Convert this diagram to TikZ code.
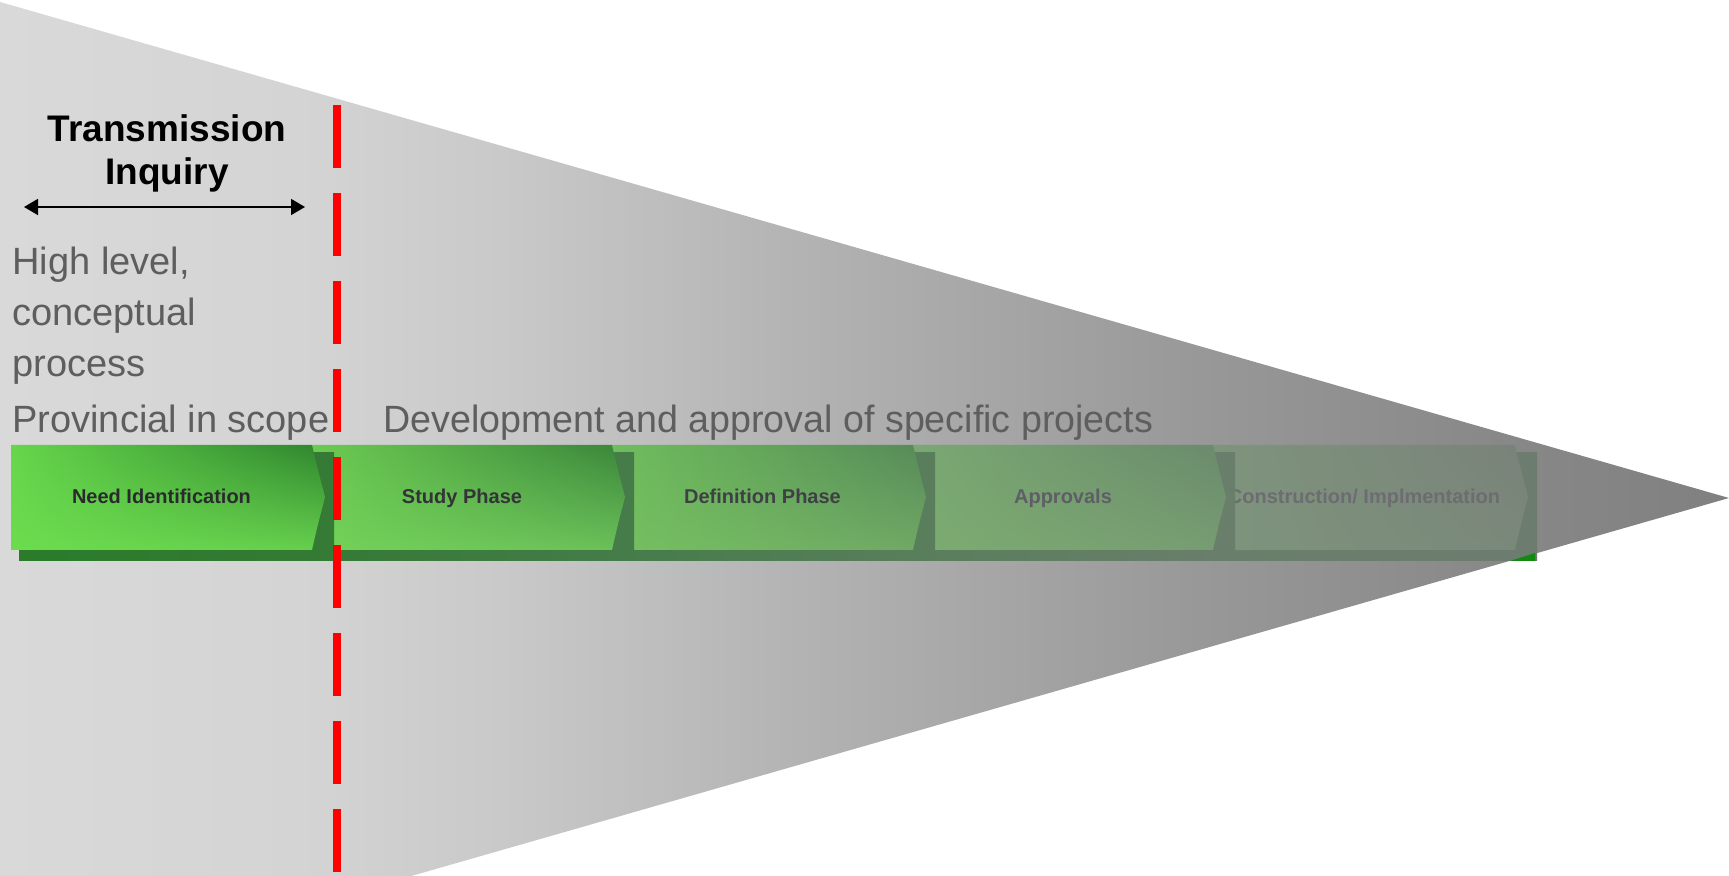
\documentclass[tikz,border=0pt]{standalone}
\usepackage{fontspec}
\setmainfont{Liberation Sans}
\usetikzlibrary{arrows.meta,shadings}
\definecolor{g0}{HTML}{D9D9D9}
\definecolor{g1}{HTML}{D4D4D4}
\definecolor{g2}{HTML}{C9C9C9}
\definecolor{g3}{HTML}{B3B3B3}
\definecolor{g4}{HTML}{989898}
\definecolor{g5}{HTML}{888888}
\definecolor{g6}{HTML}{808080}
\definecolor{gtext}{HTML}{5E5E5E}
\definecolor{dashred}{HTML}{FF0000}
\pgfdeclarehorizontalshading{bggrad}{100bp}{color(0bp)=(g0); color(25bp)=(g0); color(33.7bp)=(g1); color(39.5bp)=(g2); color(48.1bp)=(g3); color(59.7bp)=(g4); color(68.4bp)=(g5); color(75bp)=(g6); color(100bp)=(g6)}
\tikzset{
  graytext/.style={anchor=base west, inner sep=0pt, text=gtext, font=\fontsize{19pt}{22pt}\selectfont},
  titletext/.style={anchor=base, inner sep=0pt, text=black, font=\fontsize{18.5pt}{22pt}\selectfont\bfseries},
  boxtext/.style={anchor=base, inner sep=0pt, font=\fontsize{10pt}{12pt}\selectfont\bfseries},
  reddash/.style={draw=dashred, line width=4pt, dash pattern=on 31.5pt off 12.5pt},
  dblarrow/.style={draw=black, line width=0.85pt, {Triangle[length=7pt,width=8pt]}-{Triangle[length=7pt,width=8pt]}}
}
% #1 L, #2 R, #3 index, #4 next index, #5 text, #6 name
\newcommand\mychev[6]{%
  \shade[left color=s#3, right color=s#4] (#1+8,453) rectangle (#2+22,561);
  \shade[shading=bilinear interpolation, upper left=c#3a, upper right=c#3b, lower left=c#3c, lower right=c#3d]
    (#1,445) -- (#2,445) .. controls (#2+5,467) and (#2+10,485) .. (#2+13,497)
    .. controls (#2+10,509) and (#2+5,527) .. (#2,550) -- (#1,550) -- cycle;
  \node[boxtext, text=t#3] (#6) at ({(#1+#2)/2},504) {#5};
}
\definecolor{c5a}{HTML}{7E947C}\definecolor{c5b}{HTML}{7A827A}\definecolor{c5c}{HTML}{7E947C}\definecolor{c5d}{HTML}{7A887A}
\definecolor{c4a}{HTML}{7AA872}\definecolor{c4b}{HTML}{6A8A6C}\definecolor{c4c}{HTML}{7CAC70}\definecolor{c4d}{HTML}{779C72}
\definecolor{c3a}{HTML}{6FBD5C}\definecolor{c3b}{HTML}{568A58}\definecolor{c3c}{HTML}{74C060}\definecolor{c3d}{HTML}{70A865}
\definecolor{c2a}{HTML}{6CCB52}\definecolor{c2b}{HTML}{3A853A}\definecolor{c2c}{HTML}{72D258}\definecolor{c2d}{HTML}{6CC05A}
\definecolor{c1a}{HTML}{66D64B}\definecolor{c1b}{HTML}{2E852E}\definecolor{c1c}{HTML}{6CDC4E}\definecolor{c1d}{HTML}{66CF4D}
\definecolor{s1}{HTML}{2B7B2A}\definecolor{s2}{HTML}{357A35}\definecolor{s3}{HTML}{467C4A}
\definecolor{s4}{HTML}{5A7E5C}\definecolor{s5}{HTML}{6A7E6C}\definecolor{s6}{HTML}{6C7C6E}
\definecolor{t1}{HTML}{2A2A2E}\definecolor{t2}{HTML}{333338}\definecolor{t3}{HTML}{3F3F46}
\definecolor{t4}{HTML}{5E5E66}\definecolor{t5}{HTML}{6C6C72}
\definecolor{tipgreen}{HTML}{108A10}
\begin{document}
\begin{tikzpicture}[x=0.5pt,y=-0.5pt]
\useasboundingbox (0,0) rectangle (1729,876);
\fill[white] (0,0) rectangle (1729,876);
% background funnel
\shade[shading=bggrad] (0,2) -- (1729,498) -- (0,994) -- cycle;
% process chevrons, right to left
\mychev{1213}{1515}{5}{6}{Construction/ Implmentation}{n5}
\fill[tipgreen] (1510,561) -- (1535,553) -- (1535,561) -- cycle;
\mychev{913}{1213}{4}{5}{Approvals}{n4}
\mychev{612}{913}{3}{4}{Definition Phase}{n3}
\mychev{312}{612}{2}{3}{Study Phase}{n2}
\mychev{11}{312}{1}{2}{Need Identification}{n1}
% title and arrow
\node[titletext] (ti1) at (167,142) {Transmission};
\node[titletext] (ti2) at (167,185) {Inquiry};
\coordinate (aL) at (24,207);
\coordinate (aR) at (305,207);
\draw[dblarrow] (aL) -- (aR);
% gray texts
\node[graytext] (h1) at (12,275) {High level,};
\node[graytext] (h2) at (12,326) {conceptual};
\node[graytext] (h3) at (12,377) {process};
\node[graytext] (h4) at (12,433) {Provincial in scope};
\node[graytext, font=\fontsize{19pt}{22pt}\selectfont\addfontfeature{FakeStretch=0.99}] (dev) at (383,433) {Development and approval of specific projects};
% red dashed divider
\coordinate (rTop) at (337,105);
\coordinate (rBot) at (337,873);
\draw[reddash] (rTop) -- (rBot);
\end{tikzpicture}
\end{document}
